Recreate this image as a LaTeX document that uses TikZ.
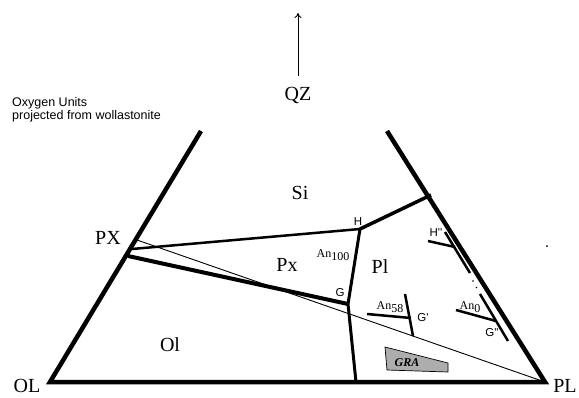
\documentclass[tikz,border=0pt]{standalone}
\usepackage{fontspec}
\setmainfont{Liberation Serif}
\newfontfamily\helv{Liberation Sans}
\usetikzlibrary{arrows.meta}
\begin{document}
\begin{tikzpicture}[x=1pt,y=-1pt,
  big/.style={font=\fontsize{20}{22}\selectfont, inner sep=0pt},
  small/.style={font=\helv\fontsize{11.5}{12}\selectfont, inner sep=0pt},
  note/.style={font=\helv\fontsize{12.5}{14}\selectfont, inner sep=0pt, align=left},
  anlab/.style={font=\fontsize{12}{14}\selectfont, inner sep=0pt},
  edge/.style={line width=4.5pt, line join=miter},
  bound/.style={line width=3pt},
  tick/.style={line width=2.5pt},
  thinline/.style={line width=0.9pt}]
\useasboundingbox (0,0) rectangle (579,397);

% points
\coordinate (OL) at (50,382);
\coordinate (PL) at (545,382);
\coordinate (LT) at (201,131);
\coordinate (RT) at (387,131);
\coordinate (RJ) at (431,195);
\coordinate (PXa) at (132,249);
\coordinate (PXb) at (128,256);
\coordinate (PXc) at (137,240);
\coordinate (H) at (360,229);
\coordinate (G) at (348,304);
\coordinate (B) at (356,382);

% outline
\draw[edge] (LT) -- (OL) -- (PL) -- (RT);

% phase boundaries
\draw[line width=2.5pt] (PXa) -- (H);
\draw[line width=4pt] (PXb) -- (G);
\draw[bound] (H) -- (G) -- (B);
\draw[line width=3.5pt] (H) -- (RJ);
\draw[thinline] (PXc) -- (PL);

% G' tie
\coordinate (Ga) at (405,294);
\coordinate (Gb) at (413,336);
\coordinate (Ta) at (367,314);
\coordinate (Tb) at (411,318);
\draw[tick] (Ga) -- (Gb);
\draw[tick] (Ta) -- (Tb);

% H''-G'' line parallel to right edge
\coordinate (Pa) at (445,232);
\coordinate (Pb) at (470,273);
\coordinate (Pc) at (480,294);
\coordinate (Pd) at (508,341);
\draw[tick] (Pa) -- (Pb);
\draw[tick] (Pc) -- (Pd);
\fill (473,281) circle (0.9pt);
\fill (476.5,287.5) circle (0.9pt);
\coordinate (Ha) at (428,241);
\coordinate (Hb) at (455,247);
\draw[tick] (Ha) -- (Hb);
\coordinate (Aa) at (456,310);
\coordinate (Ab) at (496,321);
\draw[tick] (Aa) -- (Ab);

% GRA field
\draw[fill=black!32, line width=0.7pt] (385,347) -- (448,363) -- (448,372) -- (387,370) -- cycle;
\node[font=\bfseries\itshape\fontsize{12}{14}\selectfont, inner sep=0pt] (gra) at (407,363) {GRA};

% QZ arrow
\coordinate (Qa) at (298,76);
\coordinate (Qb) at (298,13);
\draw[line width=0.9pt, -{To[length=5pt,width=7pt]}] (Qa) -- (Qb);
\node[big] (qz) at (298,95) {QZ};

% labels
\node[note, anchor=west] (oxy) at (12,110) {Oxygen Units\\[-1pt]projected from wollastonite};
\node[big] (pxl) at (108,238) {PX};
\node[big] (olb) at (27,386) {OL};
\node[big] (plb) at (565,386) {PL};
\node[big] (si) at (300,193) {Si};
\node[big] (px) at (287,265) {Px};
\node[big] (pl) at (380,267) {Pl};
\node[big] (ol) at (170,345) {Ol};
\node[small] (hl) at (358,222) {H};
\node[small] (gl) at (340,293) {G};
\node[small] (gpl) at (423,318) {G'};
\node[small] (hppl) at (436,233) {H''};
\node[small] (gppl) at (492,333) {G''};
\node[anlab] (an100) at (333,255) {An\raisebox{-3.5pt}{100}};
\node[anlab] (an58) at (390,307) {An\raisebox{-3.5pt}{58}};
\node[anlab] (an0) at (470,307) {An\raisebox{-3.5pt}{0}};
\fill (547,246) circle (1pt);
\end{tikzpicture}
\end{document}
